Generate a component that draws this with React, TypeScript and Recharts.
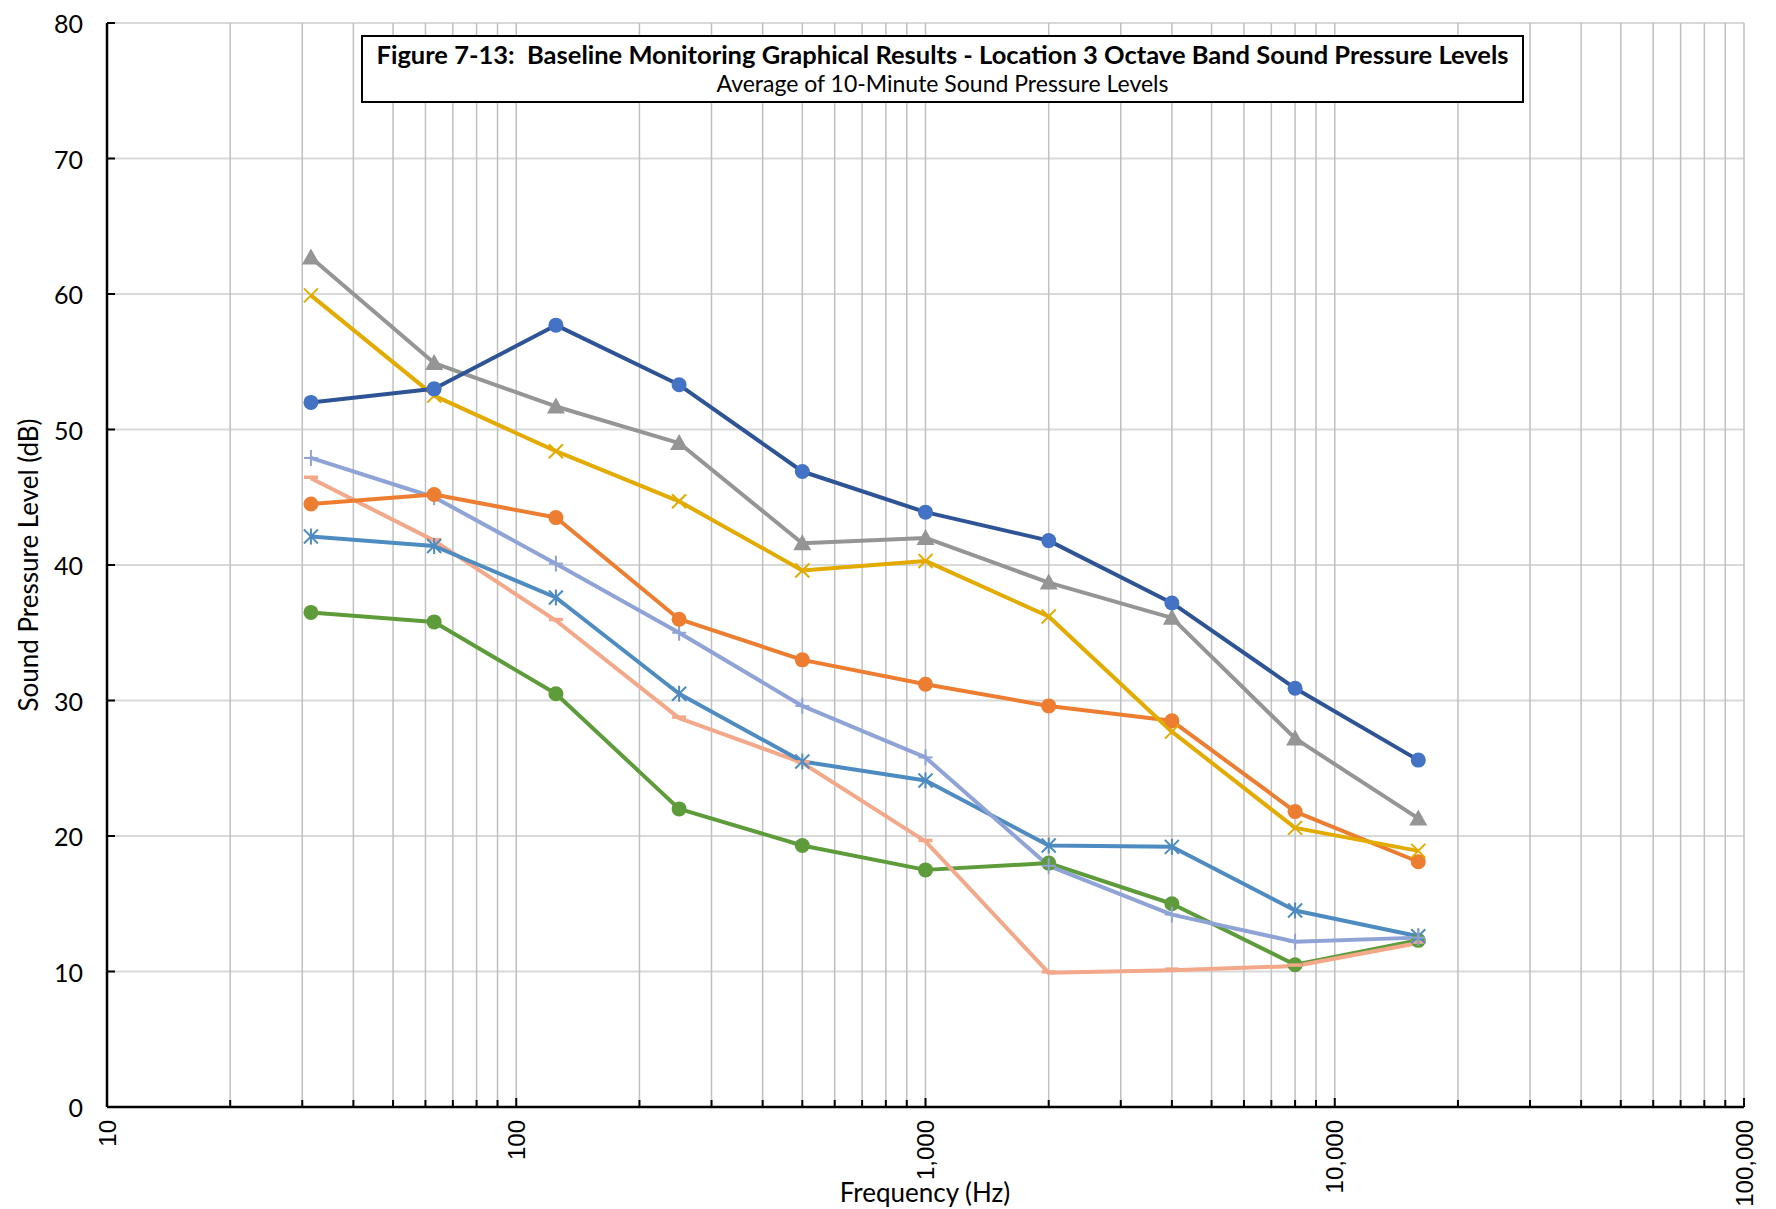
import React from 'react';
import { LineChart, Line, XAxis, YAxis, CartesianGrid } from 'recharts';

const frequencies = [31.5, 63, 125, 250, 500, 1000, 2000, 4000, 8000, 16000];

const seriesDarkBlue = [52.0, 53.0, 57.7, 53.3, 46.9, 43.9, 41.8, 37.2, 30.9, 25.6];
const seriesGray = [62.7, 54.9, 51.7, 49.0, 41.6, 42.0, 38.7, 36.1, 27.2, 21.3];
const seriesGold = [59.9, 52.5, 48.4, 44.7, 39.6, 40.3, 36.2, 27.7, 20.6, 18.9];
const seriesOrange = [44.5, 45.2, 43.5, 36.0, 33.0, 31.2, 29.6, 28.5, 21.8, 18.1];
const seriesLavender = [47.9, 45.0, 40.1, 35.0, 29.6, 25.8, 17.8, 14.2, 12.2, 12.5];
const seriesSteel = [42.1, 41.4, 37.6, 30.5, 25.5, 24.1, 19.3, 19.2, 14.5, 12.6];
const seriesSalmon = [46.4, 41.8, 35.9, 28.7, 25.4, 19.6, 9.9, 10.1, 10.4, 12.1];
const seriesGreen = [36.5, 35.8, 30.5, 22.0, 19.3, 17.5, 18.0, 15.0, 10.5, 12.3];

const xGridTicks = [
  10, 20, 30, 40, 50, 60, 70, 80, 90,
  100, 200, 300, 400, 500, 600, 700, 800, 900,
  1000, 2000, 3000, 4000, 5000, 6000, 7000, 8000, 9000,
  10000, 20000, 30000, 40000, 50000, 60000, 70000, 80000, 90000,
  100000,
];
const xLabelTicks = [10, 100, 1000, 10000, 100000];
const yTicks = [0, 10, 20, 30, 40, 50, 60, 70, 80];

const data = frequencies.map((f, i) => ({
  f,
  darkBlue: seriesDarkBlue[i],
  gray: seriesGray[i],
  gold: seriesGold[i],
  orange: seriesOrange[i],
  lavender: seriesLavender[i],
  steel: seriesSteel[i],
  salmon: seriesSalmon[i],
  green: seriesGreen[i],
}));

const FONT = 'Lato, "Open Sans", sans-serif';

const makeDot = (shape: string, color: string) => (props: any) => {
  const { cx, cy, index } = props;
  if (cx == null || cy == null) return <g key={index} />;
  const k = `${shape}-${index}`;
  switch (shape) {
    case 'circle':
      return <circle key={k} cx={cx} cy={cy} r={7.5} fill={color} stroke="none" />;
    case 'triangle':
      return (
        <polygon
          key={k}
          points={`${cx},${cy - 9} ${cx + 9},${cy + 7} ${cx - 9},${cy + 7}`}
          fill={color}
        />
      );
    case 'x':
      return (
        <g key={k} stroke={color} strokeWidth={2}>
          <line x1={cx - 7} y1={cy - 7} x2={cx + 7} y2={cy + 7} />
          <line x1={cx - 7} y1={cy + 7} x2={cx + 7} y2={cy - 7} />
        </g>
      );
    case 'plus':
      return (
        <g key={k} stroke={color} strokeWidth={2}>
          <line x1={cx - 7} y1={cy} x2={cx + 7} y2={cy} />
          <line x1={cx} y1={cy - 8} x2={cx} y2={cy + 8} />
        </g>
      );
    case 'star':
      return (
        <g key={k} stroke={color} strokeWidth={2}>
          <line x1={cx - 7} y1={cy - 7} x2={cx + 7} y2={cy + 7} />
          <line x1={cx - 7} y1={cy + 7} x2={cx + 7} y2={cy - 7} />
          <line x1={cx} y1={cy - 8} x2={cx} y2={cy + 8} />
        </g>
      );
    case 'dash':
      return (
        <g key={k} stroke={color} strokeWidth={3.5}>
          <line x1={cx - 7} y1={cy - 1} x2={cx + 7} y2={cy - 1} />
        </g>
      );
    default:
      return <g key={k} />;
  }
};

const XTick = (props: any) => {
  const { x, y, payload } = props;
  const v = payload.value;
  const major = xLabelTicks.includes(v);
  const ly = y + 13;
  return (
    <g>
      <line x1={x} x2={x} y1={y} y2={y - (major ? 9 : 7)} stroke="#000" strokeWidth={2} />
      {major && (
        <text
          x={x}
          y={ly}
          transform={`rotate(-90 ${x} ${ly})`}
          textAnchor="end"
          dominantBaseline="central"
          fontFamily='"Liberation Sans", Arial, sans-serif'
          fontSize={24}
          fill="#000"
        >
          {v.toLocaleString('en-US')}
        </text>
      )}
    </g>
  );
};

const YTick = (props: any) => {
  const { x, y, payload } = props;
  return (
    <g>
      <line x1={x} x2={x + 8} y1={y} y2={y} stroke="#000" strokeWidth={2} />
      <text
        x={x - 24}
        y={y}
        textAnchor="end"
        dominantBaseline="central"
        fontFamily={FONT}
        fontSize={25}
        fill="#000"
      >
        {payload.value}
      </text>
    </g>
  );
};

const seriesDefs = [
  { key: 'green', line: '#5E9B3B', mark: '#5E9B3B', shape: 'circle' },
  { key: 'salmon', line: '#F3A88A', mark: '#F3A88A', shape: 'dash' },
  { key: 'steel', line: '#4E8BC1', mark: '#4E8BC1', shape: 'star' },
  { key: 'lavender', line: '#8FA3D6', mark: '#8FA3D6', shape: 'plus' },
  { key: 'orange', line: '#ED7D31', mark: '#ED7D31', shape: 'circle' },
  { key: 'gold', line: '#E3AB00', mark: '#E3AB00', shape: 'x' },
  { key: 'gray', line: '#959595', mark: '#959595', shape: 'triangle' },
  { key: 'darkBlue', line: '#2F5496', mark: '#4472C4', shape: 'circle' },
];

export default function App() {
  return (
    <div
      style={{
        position: 'fixed',
        left: 0,
        top: 0,
        width: 1776,
        height: 1209,
        overflow: 'hidden',
        background: '#fff',
      }}
    >
      <LineChart
        width={1776}
        height={1209}
        data={data}
        margin={{ top: 23, right: 32, left: 0, bottom: 0 }}
      >
        <CartesianGrid vertical={false} stroke="#d9d9d9" strokeWidth={2} />
        <CartesianGrid horizontal={false} stroke="#c0c0c0" strokeWidth={1.5} />
        <XAxis
          dataKey="f"
          type="number"
          scale="log"
          domain={[10, 100000]}
          allowDataOverflow
          ticks={xGridTicks}
          interval={0}
          tick={<XTick />}
          tickSize={0}
          tickMargin={0}
          tickLine={false}
          axisLine={{ stroke: '#000', strokeWidth: 2.5 }}
          height={102}
        />
        <YAxis
          type="number"
          domain={[0, 80]}
          ticks={yTicks}
          interval={0}
          tick={<YTick />}
          tickSize={0}
          tickMargin={0}
          tickLine={false}
          axisLine={{ stroke: '#000', strokeWidth: 2.5 }}
          width={107}
        />
        {seriesDefs.map((s) => (
          <Line
            key={s.key}
            dataKey={s.key}
            type="linear"
            stroke={s.line}
            strokeWidth={4}
            strokeLinejoin="round"
            dot={makeDot(s.shape, s.mark)}
            activeDot={false}
            isAnimationActive={false}
          />
        ))}
      </LineChart>

      <div
        style={{
          position: 'absolute',
          left: 361,
          top: 35,
          width: 1163,
          height: 68,
          boxSizing: 'border-box',
          border: '2px solid #000',
          background: '#fff',
          fontFamily: FONT,
          textAlign: 'center',
          color: '#000',
        }}
      >
        <div style={{ fontSize: 25.5, fontWeight: 700, lineHeight: '30px', marginTop: 2, whiteSpace: 'nowrap' }}>
          Figure 7-13:&nbsp; Baseline Monitoring Graphical Results - Location 3 Octave Band Sound Pressure Levels
        </div>
        <div style={{ fontSize: 23, fontWeight: 400, lineHeight: '28px', whiteSpace: 'nowrap' }}>
          Average of 10-Minute Sound Pressure Levels
        </div>
      </div>

      <div
        style={{
          position: 'absolute',
          left: 28,
          top: 565,
          transform: 'translate(-50%, -50%) rotate(-90deg)',
          fontFamily: FONT,
          fontSize: 26,
          whiteSpace: 'nowrap',
          color: '#000',
          lineHeight: '28px',
        }}
      >
        Sound Pressure Level (dB)
      </div>

      <div
        style={{
          position: 'absolute',
          left: 925,
          top: 1178,
          transform: 'translateX(-50%)',
          fontFamily: FONT,
          fontSize: 26,
          lineHeight: '28px',
          whiteSpace: 'nowrap',
          color: '#000',
        }}
      >
        Frequency (Hz)
      </div>
    </div>
  );
}
